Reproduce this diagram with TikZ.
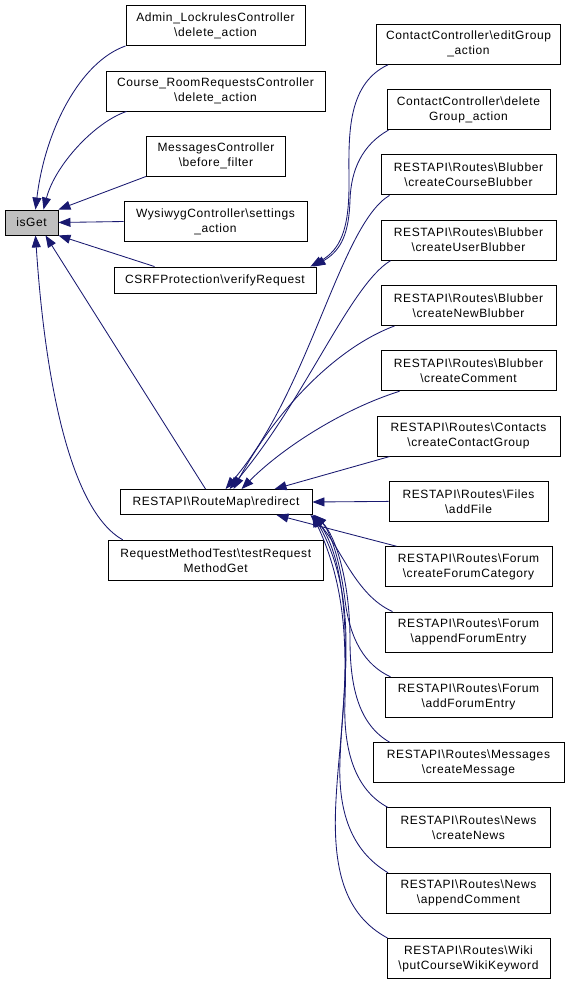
\documentclass[tikz,border=0pt]{standalone}
\usepackage{fontspec}
\setmainfont{Liberation Sans}[LetterSpace=5]
\usetikzlibrary{arrows.meta}
\definecolor{callblue}{HTML}{191970}
\newcommand{\bk}{\textbackslash}

\begin{document}
\begin{tikzpicture}[x=1pt, y=-1pt,
    fn/.style={draw=black, line width=0.9pt, fill=white, align=center, inner sep=0pt,
        minimum height=40, font=\fontsize{12}{15}\selectfont},
    call/.style={draw=callblue, line width=0.85pt, -{Triangle[length=12pt,width=9pt]}}]
    \useasboundingbox (0,0) rectangle (569,985);

    % Function and its direct callers
    \node[fn, fill=black!25, minimum width=53, minimum height=25] (isget) at (31.5,222.5) {isGet};
    \node[fn, minimum width=179] (lockrules) at (215.5,25.5) {Admin\_LockrulesController\\\bk delete\_action};
    \node[fn, minimum width=219] (roomreq) at (215.5,91) {Course\_RoomRequestsController\\\bk delete\_action};
    \node[fn, minimum width=139] (msgctl) at (216,156) {MessagesController\\\bk before\_filter};
    \node[fn, minimum width=183] (wysiwyg) at (215.5,221.5) {WysiwygController\bk settings\\\_action};
    \node[fn, minimum width=202, minimum height=26] (csrf) at (215,280) {CSRFProtection\bk verifyRequest};
    \node[fn, minimum width=192, minimum height=25] (redirect) at (216,502) {RESTAPI\bk RouteMap\bk redirect};
    \node[fn, minimum width=215] (reqtest) at (215.7,560.3) {RequestMethodTest\bk testRequest\\MethodGet};

    % Second column of callers
    \foreach \nm/\w/\txt [count=\i from 0] in {
        editgrp/184/{ContactController\bk editGroup\\\_action},
        delgrp/163/{ContactController\bk delete\\Group\_action},
        cblub/175/{RESTAPI\bk Routes\bk Blubber\\\bk createCourseBlubber},
        ublub/175/{RESTAPI\bk Routes\bk Blubber\\\bk createUserBlubber},
        nblub/175/{RESTAPI\bk Routes\bk Blubber\\\bk createNewBlubber},
        bcomment/175/{RESTAPI\bk Routes\bk Blubber\\\bk createComment},
        contact/183/{RESTAPI\bk Routes\bk Contacts\\\bk createContactGroup},
        files/159/{RESTAPI\bk Routes\bk Files\\\bk addFile},
        forumcat/167/{RESTAPI\bk Routes\bk Forum\\\bk createForumCategory},
        appforum/167/{RESTAPI\bk Routes\bk Forum\\\bk appendForumEntry},
        addforum/167/{RESTAPI\bk Routes\bk Forum\\\bk addForumEntry},
        message/191/{RESTAPI\bk Routes\bk Messages\\\bk createMessage},
        news/164/{RESTAPI\bk Routes\bk News\\\bk createNews},
        newscmt/164/{RESTAPI\bk Routes\bk News\\\bk appendComment},
        wiki/163/{RESTAPI\bk Routes\bk Wiki\\\bk putCourseWikiKeyword}}
        \node[fn, minimum width=\w] (\nm) at (468.5,44.3+65.3*\i) {\txt};

    % Calls into isGet
    \draw[call] (lockrules.south west) .. controls (80,62) and (45,130) .. ([xshift=4pt]isget.north);
    \draw[call] ([xshift=21pt]roomreq.south west) .. controls (95,122) and (55,165) .. ([xshift=12pt]isget.north);
    \draw[call] (msgctl.south west) -- (isget.north east);
    \draw[call] (wysiwyg.west) -- (isget.east);
    \draw[call] ([xshift=41pt]csrf.north west) -- (isget.south east);
    \draw[call] ([xshift=86pt]redirect.north west) -- ([xshift=14pt]isget.south);
    \draw[call] ([xshift=15pt]reqtest.north west) .. controls (70,510) and (45,380) .. ([xshift=4pt]isget.south);

    % Calls into verifyRequest
    \draw[call] ([xshift=12pt]editgrp.south west) .. controls (345,85) and (349,140) .. (349,185)
        .. controls (349,230) and (340,250) .. ([xshift=-6pt]csrf.north east);
    \draw[call] ([xshift=2pt]delgrp.south west) .. controls (362,145) and (351,170) .. (350,200)
        .. controls (349,232) and (342,250) .. ([xshift=-3pt]csrf.north east);

    % Calls into redirect
    \draw[call] ([xshift=9pt]cblub.south west) .. controls (340,225) and (310,390) .. ([xshift=106pt]redirect.north west);
    \draw[call] ([xshift=10pt]ublub.south west) .. controls (350,285) and (305,400) .. ([xshift=110pt]redirect.north west);
    \draw[call] ([xshift=14pt]nblub.south west) .. controls (330,350) and (270,420) .. ([xshift=114pt]redirect.north west);
    \draw[call] ([xshift=19pt]bcomment.south west) .. controls (340,410) and (280,450) .. ([xshift=122pt]redirect.north west);
    \draw[call] ([xshift=13pt]contact.south west) -- ([xshift=155pt]redirect.north west);
    \draw[call] (files.west) -- (redirect.east);
    \draw[call] ([xshift=12pt]forumcat.north west) -- ([xshift=-36pt]redirect.south east);
    \draw[call] ([xshift=8pt]appforum.north west) .. controls (355,595) and (340,545) .. ([xshift=-2pt]redirect.south east);
    \draw[call] ([xshift=6pt]addforum.north west) .. controls (365,665) and (350,640) .. (345,600)
        .. controls (340,560) and (330,530) .. ([xshift=1pt]redirect.south east);
    \draw[call] ([xshift=17pt]message.north west) .. controls (360,725) and (350,690) .. (350,640)
        .. controls (350,580) and (335,535) .. ([xshift=2pt]redirect.south east);
    \draw[call] ([xshift=2pt]news.north west) .. controls (355,790) and (343,750) .. (345,700)
        .. controls (347,630) and (345,560) .. ([xshift=1pt]redirect.south east);
    \draw[call] ([xshift=2pt]newscmt.north west) .. controls (350,850) and (338,810) .. (340,760)
        .. controls (343,680) and (360,600) .. ([xshift=1pt]redirect.south east);
    \draw[call] ([xshift=1pt]wiki.north west) .. controls (345,915) and (332,870) .. (336,800)
        .. controls (340,720) and (362,620) .. (redirect.south east);
\end{tikzpicture}
\end{document}
